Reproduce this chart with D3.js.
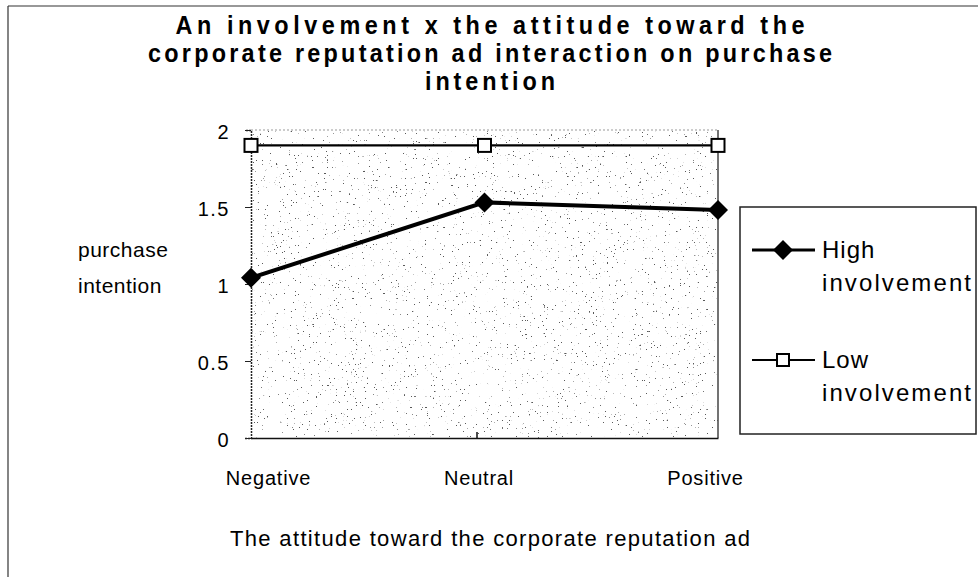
<!DOCTYPE html>
<html>
<head>
<meta charset="utf-8">
<script src="https://cdn.jsdelivr.net/npm/d3@7"></script>
<style>
  body { margin: 0; background: #fff; }
  text { font-family: "Liberation Sans", Arial, sans-serif; fill: #000; }
</style>
</head>
<body>
<div id="chart"></div>
<script>
// data
var categories = ["Negative", "Neutral", "Positive"];
var highValues = [1.04, 1.53, 1.48];
var lowValues = [1.9, 1.9, 1.9];
var seriesNames = ["High involvement", "Low involvement"];
var yTicks = [0, 0.5, 1, 1.5, 2];
var titleLines = ["An involvement x the attitude toward the",
    "corporate reputation ad interaction on purchase",
    "intention"];

var w = 978, h = 577;
var plot = { left: 251, right: 718, top: 130, bottom: 438 };

var svg = d3.select("#chart").append("svg")
    .attr("width", w)
    .attr("height", h);

// speckled background like the scan
var defs = svg.append("defs");
var f = defs.append("filter").attr("id", "speck")
    .attr("x", 0).attr("y", 0).attr("width", 1).attr("height", 1);
f.append("feTurbulence")
    .attr("type", "fractalNoise")
    .attr("baseFrequency", 0.55)
    .attr("numOctaves", 2)
    .attr("seed", 11)
    .attr("result", "noise");
f.append("feColorMatrix")
    .attr("in", "noise")
    .attr("type", "matrix")
    .attr("values", "0 0 0 0 0.1  0 0 0 0 0.1  0 0 0 0 0.1  20 0 0 0 -14.6");

// outer frame (only top and left visible)
svg.append("line").attr("x1", 8).attr("x2", w).attr("y1", 6).attr("y2", 6)
    .attr("stroke", "#333").attr("stroke-width", 1.2);
svg.append("line").attr("x1", 8).attr("x2", 8).attr("y1", 6).attr("y2", h)
    .attr("stroke", "#333").attr("stroke-width", 1.2);

// title: slightly narrow bold, widths from the picture
var titleWidths = [629, 684, 130];
var squeeze = 0.9;
svg.append("g")
    .attr("transform", "scale(" + squeeze + ",1)")
    .selectAll("text")
    .data(titleLines)
    .enter()
    .append("text")
    .attr("x", 490 / squeeze)
    .attr("y", function (d, i) { return 34 + i * 28; })
    .attr("text-anchor", "middle")
    .attr("textLength", function (d, i) { return titleWidths[i] / squeeze; })
    .attr("lengthAdjust", "spacing")
    .style("font-size", "26px")
    .style("font-weight", "bold")
    .text(function (d) { return d; });

var x = d3.scalePoint()
    .domain(categories)
    .range([plot.left, plot.right]);
var y = d3.scaleLinear()
    .domain([0, 2])
    .range([plot.bottom, plot.top]);

// plot area
svg.append("rect")
    .attr("x", plot.left).attr("y", plot.top)
    .attr("width", plot.right - plot.left)
    .attr("height", plot.bottom - plot.top)
    .attr("fill", "#fff");
svg.append("rect")
    .attr("x", plot.left).attr("y", plot.top)
    .attr("width", plot.right - plot.left)
    .attr("height", plot.bottom - plot.top)
    .attr("fill", "#fff")
    .attr("filter", "url(#speck)");
svg.append("line")
    .attr("x1", plot.left).attr("x2", plot.right)
    .attr("y1", plot.top).attr("y2", plot.top)
    .attr("stroke", "#999").attr("stroke-dasharray", "2,2");
svg.append("line")
    .attr("x1", plot.right).attr("x2", plot.right)
    .attr("y1", plot.top).attr("y2", plot.bottom)
    .attr("stroke", "#444").attr("stroke-width", 1.5);

// y axis
var yAxis = svg.append("g")
    .attr("transform", "translate(" + plot.left + ",0)")
    .call(d3.axisLeft(y).tickValues(yTicks).tickSize(6).tickPadding(15)
        .tickFormat(function (d) { return String(d); }));
yAxis.select(".domain").attr("stroke", "#222").attr("stroke-width", 1.5)
    .attr("stroke-dasharray", "2,1");
yAxis.selectAll(".tick line").attr("stroke", "#222");
yAxis.selectAll(".tick text")
    .style("font-size", "20px")
    .style("letter-spacing", "1.5px")
    .style("font-family", "'Liberation Sans', Arial, sans-serif")
    .attr("dy", "0.4em");

// x axis
var xAxis = svg.append("g")
    .attr("transform", "translate(0," + plot.bottom + ")")
    .call(d3.axisBottom(x).tickSize(0).tickPadding(33));
xAxis.select(".domain").attr("stroke", "#111").attr("stroke-width", 1.5);
xAxis.selectAll(".tick text")
    .style("font-size", "20px")
    .style("font-family", "'Liberation Sans', Arial, sans-serif")
    .style("letter-spacing", "0.8px")
    .attr("transform", function (d, i) { return "translate(" + [17, -6, -13][i] + ",0)"; });
// small tick on the category axis
svg.append("line")
    .attr("x1", 477).attr("x2", 477)
    .attr("y1", plot.bottom).attr("y2", plot.bottom - 6)
    .attr("stroke", "#111").attr("stroke-width", 1.5);

// axis titles
svg.append("text")
    .attr("x", 78).attr("y", 257)
    .style("font-size", "21px")
    .style("letter-spacing", "0.5px")
    .text("purchase");
svg.append("text")
    .attr("x", 78).attr("y", 293)
    .style("font-size", "21px")
    .style("letter-spacing", "0.5px")
    .text("intention");
svg.append("text")
    .attr("x", 490).attr("y", 546)
    .attr("text-anchor", "middle")
    .attr("textLength", 520)
    .attr("lengthAdjust", "spacing")
    .style("font-size", "22px")
    .text("The attitude toward the corporate reputation ad");

// lines
var line = d3.line()
    .x(function (d, i) { return x(categories[i]); })
    .y(function (d) { return y(d); });

svg.append("path")
    .datum(lowValues)
    .attr("d", line)
    .attr("fill", "none")
    .attr("stroke", "#000")
    .attr("stroke-width", 2.4);
svg.append("path")
    .datum(highValues)
    .attr("d", line)
    .attr("fill", "none")
    .attr("stroke", "#000")
    .attr("stroke-width", 4);

var diamond = "M0,-10L10,0L0,10L-10,0Z";

svg.append("g").selectAll("path")
    .data(highValues)
    .enter()
    .append("path")
    .attr("d", diamond)
    .attr("transform", function (d, i) { return "translate(" + x(categories[i]) + "," + y(d) + ")"; })
    .attr("fill", "#000");

svg.append("g").selectAll("rect")
    .data(lowValues)
    .enter()
    .append("rect")
    .attr("x", function (d, i) { return x(categories[i]) - 6.5; })
    .attr("y", function (d) { return y(d) - 6.5; })
    .attr("width", 13)
    .attr("height", 13)
    .attr("fill", "#fff")
    .attr("stroke", "#000")
    .attr("stroke-width", 2);

// legend
var legend = svg.append("g");
legend.append("rect")
    .attr("x", 740).attr("y", 207)
    .attr("width", 236).attr("height", 227)
    .attr("fill", "#fff")
    .attr("stroke", "#222")
    .attr("stroke-width", 1.5);

var legendY = [250, 360];
seriesNames.forEach(function (name, i) {
    var ly = legendY[i];
    legend.append("line")
        .attr("x1", 752).attr("x2", 815)
        .attr("y1", ly).attr("y2", ly)
        .attr("stroke", "#000")
        .attr("stroke-width", i === 0 ? 3 : 2);
    if (i === 0) {
        legend.append("path")
            .attr("d", diamond)
            .attr("transform", "translate(783," + ly + ")")
            .attr("fill", "#000");
    } else {
        legend.append("rect")
            .attr("x", 777).attr("y", ly - 6)
            .attr("width", 12).attr("height", 12)
            .attr("fill", "#fff").attr("stroke", "#000").attr("stroke-width", 2);
    }
    var parts = name.split(" ");
    legend.append("text")
        .attr("x", 822).attr("y", ly + 8)
        .style("font-size", "24px")
        .style("letter-spacing", "1px")
        .text(parts[0]);
    legend.append("text")
        .attr("x", 822).attr("y", ly + 41)
        .attr("textLength", 149)
        .attr("lengthAdjust", "spacing")
        .style("font-size", "24px")
        .text(parts[1]);
});
</script>
</body>
</html>
